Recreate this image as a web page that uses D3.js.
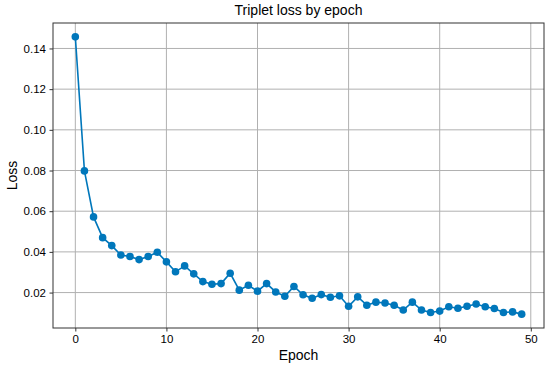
<!DOCTYPE html>
<html>
<head>
<meta charset="utf-8">
<script src="https://cdn.jsdelivr.net/npm/d3@7"></script>
<style>
  body { margin: 0; background: #fff; }
  svg text { font-family: "Liberation Sans", Arial, sans-serif; fill: #000; }
</style>
</head>
<body>
<div class="chart"></div>
<script>
// loss per epoch
const epochs = d3.range(0, 50);
const loss = [
  0.1457, 0.0798, 0.0572, 0.0470, 0.0431, 0.0385, 0.0377, 0.0362, 0.0377, 0.0398,
  0.0351, 0.0302, 0.0331, 0.0292, 0.0254, 0.0241, 0.0244, 0.0295, 0.0212, 0.0236,
  0.0207, 0.0244, 0.0203, 0.0182, 0.0230, 0.0189, 0.0172, 0.0190, 0.0177, 0.0184,
  0.0133, 0.0179, 0.0138, 0.0153, 0.0149, 0.0138, 0.0114, 0.0153, 0.0114, 0.0102,
  0.0109, 0.0130, 0.0123, 0.0133, 0.0144, 0.0130, 0.0122, 0.0102, 0.0105, 0.0094
];
const xTicks = [0, 10, 20, 30, 40, 50];
const yTicks = [0.02, 0.04, 0.06, 0.08, 0.10, 0.12, 0.14];

const data = epochs.map((e, i) => ({epoch: e, loss: loss[i]}));

const margin = ({top: 23, right: 6, bottom: 39, left: 53});
const width = 550 - margin.left - margin.right,
      height = 367 - margin.top - margin.bottom;

const svg = d3.select(".chart").append("svg")
    .attr("width", 550)
    .attr("height", 367);

const g = svg.append("g")
    .attr("transform", "translate(" + margin.left + "," + margin.top + ")");

// matplotlib style 5% padding
const xPad = (49 - 0) * 0.05;
const xScale = d3.scaleLinear()
    .domain([0 - xPad, 49 + xPad])
    .range([0, width]);

const yMin = d3.min(loss), yMax = d3.max(loss);
const yPad = (yMax - yMin) * 0.05;
const yScale = d3.scaleLinear()
    .domain([yMin - yPad, yMax + yPad])
    .range([height, 0]);

// grid
g.append("g").selectAll("line")
    .data(xTicks)
    .enter().append("line")
    .attr("x1", d => xScale(d)).attr("x2", d => xScale(d))
    .attr("y1", 0).attr("y2", height)
    .attr("stroke", "#b0b0b0").attr("stroke-width", 1);

g.append("g").selectAll("line")
    .data(yTicks)
    .enter().append("line")
    .attr("y1", d => yScale(d)).attr("y2", d => yScale(d))
    .attr("x1", 0).attr("x2", width)
    .attr("stroke", "#b0b0b0").attr("stroke-width", 1);

// axes
const xAxis = d3.axisBottom(xScale)
    .tickValues(xTicks)
    .tickFormat(d3.format("d"))
    .tickSizeOuter(0)
    .tickSize(3.5)
    .tickPadding(3.5);

const yAxis = d3.axisLeft(yScale)
    .tickValues(yTicks)
    .tickFormat(d3.format(".2f"))
    .tickSizeOuter(0)
    .tickSize(3.5)
    .tickPadding(3.5);

g.append("g")
    .attr("class", "x-axis")
    .attr("transform", "translate(0," + height + ")")
    .call(xAxis);

g.append("g")
    .attr("class", "y-axis")
    .call(yAxis);

g.selectAll(".x-axis text, .y-axis text")
    .style("font-family", "'Liberation Sans', Arial, sans-serif")
    .style("font-size", "11.5px")
    .attr("fill", "#000");
g.selectAll(".x-axis .domain, .y-axis .domain").remove();
g.selectAll(".tick line").attr("stroke", "#333");

// frame
g.append("rect")
    .attr("x", 0).attr("y", 0)
    .attr("width", width).attr("height", height)
    .attr("fill", "none")
    .attr("stroke", "#333")
    .attr("stroke-width", 1);

// line + markers
const line = d3.line()
    .x(d => xScale(d.epoch))
    .y(d => yScale(d.loss));

g.append("path")
    .datum(data)
    .attr("d", line)
    .attr("fill", "none")
    .attr("stroke", "#0077bb")
    .attr("stroke-width", 1.6);

g.selectAll("circle")
    .data(data)
    .enter().append("circle")
    .attr("cx", d => xScale(d.epoch))
    .attr("cy", d => yScale(d.loss))
    .attr("r", 3.8)
    .attr("fill", "#0077bb");

// labels
svg.append("text")
    .attr("x", margin.left + width / 2)
    .attr("y", 15)
    .attr("text-anchor", "middle")
    .style("font-size", "14px")
    .text("Triplet loss by epoch");

svg.append("text")
    .attr("x", margin.left + width / 2)
    .attr("y", 360)
    .attr("text-anchor", "middle")
    .style("font-size", "14px")
    .text("Epoch");

svg.append("text")
    .attr("transform", "translate(17," + (margin.top + height / 2) + ") rotate(-90)")
    .attr("text-anchor", "middle")
    .style("font-size", "14px")
    .text("Loss");
</script>
</body>
</html>
